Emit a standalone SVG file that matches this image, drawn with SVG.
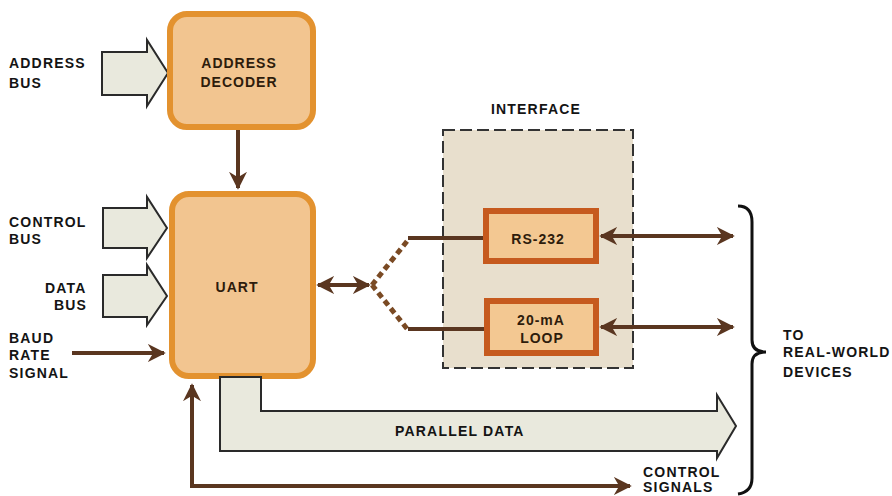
<svg xmlns="http://www.w3.org/2000/svg" width="892" height="496" viewBox="0 0 892 496">
<defs>
<style>
.lbl{font-family:"Liberation Sans",Arial,sans-serif;font-weight:bold;font-size:14px;fill:#141414;letter-spacing:1.2px}
.box{font-family:"Liberation Sans",Arial,sans-serif;font-weight:bold;font-size:14px;fill:#2e1c0c;letter-spacing:1px;text-anchor:middle}
.fat{fill:#e9e9dd;stroke:#2a2a2a;stroke-width:2;stroke-linejoin:miter}
.rbox{fill:#f2c590;stroke:#e3922f;stroke-width:6}
.ibox{fill:#f3c892;stroke:#c65a1e;stroke-width:6}
.wire{stroke:#5a3620;stroke-width:4;fill:none}
.dash{stroke:#7a4a24;stroke-width:5;stroke-dasharray:6,4;fill:none}
</style>
<marker id="ah" viewBox="0 0 10 10" refX="9" refY="5" markerWidth="4.5" markerHeight="4.5" orient="auto-start-reverse" markerUnits="strokeWidth">
<path d="M0,0 L10,5 L0,10 L3,5 z" fill="#5a3620"/>
</marker>
</defs>
<rect width="892" height="496" fill="#ffffff"/>

<g id="address-bus">
<polygon class="fat" points="102,52 147,52 147,40 168,73 147,106 147,95 102,95"/>
<text class="lbl" x="9" y="68">ADDRESS</text>
<text class="lbl" x="9" y="88">BUS</text>
</g>

<g id="control-bus">
<polygon class="fat" points="103,208 147,208 147,197 167,228 147,258 147,248 103,248"/>
<text class="lbl" x="9" y="227">CONTROL</text>
<text class="lbl" x="9" y="244">BUS</text>
</g>

<g id="data-bus">
<polygon class="fat" points="103,275 147,275 147,265 167,296 147,325 147,317 103,317"/>
<text class="lbl" x="45" y="293">DATA</text>
<text class="lbl" x="54" y="310">BUS</text>
</g>

<g id="baud-rate">
<text class="lbl" x="9" y="343">BAUD</text>
<text class="lbl" x="9" y="360">RATE</text>
<text class="lbl" x="9" y="378">SIGNAL</text>
</g>

<g id="address-decoder">
<rect class="rbox" x="170" y="14" width="143" height="113" rx="17"/>
<text class="box" x="239" y="68">ADDRESS</text>
<text class="box" x="239" y="87">DECODER</text>
</g>

<g id="uart">
<rect class="rbox" x="172" y="194" width="141" height="182" rx="17"/>
<text class="box" x="237" y="292" letter-spacing="3">UART</text>
</g>

<g id="interface">
<rect x="443" y="130" width="190" height="238" fill="#e8dfcd" stroke="#333" stroke-width="2" stroke-dasharray="12,5"/>
<text class="lbl" x="536" y="114" text-anchor="middle" letter-spacing="1.5">INTERFACE</text>
</g>

<g id="rs232">
<rect class="ibox" x="486" y="211" width="110" height="50"/>
<text class="box" x="538" y="244">RS-232</text>
</g>

<g id="loop">
<rect class="ibox" x="487" y="301" width="109" height="52"/>
<text class="box" x="541" y="325">20-mA</text>
<text class="box" x="542" y="343">LOOP</text>
</g>

<g id="parallel-data">
<polygon class="fat" points="220,377 261,377 261,411 717,411 717,395 736,426 717,458 717,451 220,451"/>
<text class="lbl" x="395" y="436" font-size="15" letter-spacing="1.5">PARALLEL DATA</text>
</g>

<g id="control-signals">
<text class="lbl" x="643" y="477">CONTROL</text>
<text class="lbl" x="643" y="492">SIGNALS</text>
</g>

<g id="real-world">
<path d="M738,206 Q752,206 752,222 L752,340 Q752,352 766,352 Q752,352 752,364 L752,478 Q752,492 738,494" fill="none" stroke="#111" stroke-width="3"/>
<text class="lbl" x="783" y="340">TO</text>
<text class="lbl" x="783" y="357">REAL-WORLD</text>
<text class="lbl" x="783" y="377">DEVICES</text>
</g>

<g id="connectors">
<path class="wire" d="M238,130 L238,188" marker-end="url(#ah)"/>
<path class="wire" d="M72,353 L164,353" marker-end="url(#ah)"/>
<path class="wire" d="M318,285 L369,285" marker-start="url(#ah)" marker-end="url(#ah)"/>
<path class="dash" d="M372,285 L408,240"/>
<path class="dash" d="M372,285 L408,330"/>
<path class="wire" d="M408,238 L483,238"/>
<path class="wire" d="M408,329 L484,329"/>
<path class="wire" d="M601,236 L733,236" marker-start="url(#ah)" marker-end="url(#ah)"/>
<path class="wire" d="M601,327 L733,327" marker-start="url(#ah)" marker-end="url(#ah)"/>
<path class="wire" d="M192,385 L192,486 L630,486" marker-start="url(#ah)" marker-end="url(#ah)"/>
</g>
</svg>
